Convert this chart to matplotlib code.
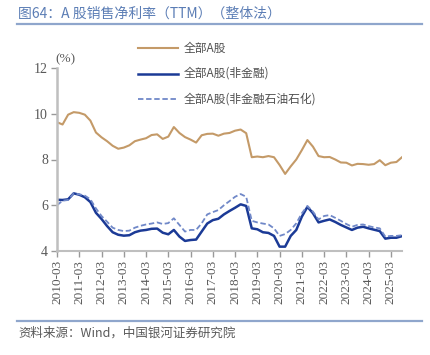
import matplotlib
matplotlib.use("Agg")
import matplotlib.pyplot as plt
from matplotlib.lines import Line2D

quarters = [f"{y}-{m:02d}" for y in range(2010, 2026) for m in (3, 6, 9, 12)][:63]

all_a = [9.63, 9.53, 9.96, 10.07, 10.04, 9.96, 9.70, 9.18, 8.97, 8.80, 8.60, 8.47, 8.52, 8.62, 8.80, 8.87,
         8.93, 9.07, 9.10, 8.90, 9.00, 9.42, 9.16, 8.98, 8.87, 8.74, 9.06, 9.12, 9.13, 9.04, 9.13, 9.16,
         9.26, 9.31, 9.15, 8.10, 8.13, 8.10, 8.15, 8.10, 7.76, 7.37, 7.70, 8.00, 8.41, 8.85, 8.56, 8.15,
         8.10, 8.11, 8.00, 7.87, 7.86, 7.74, 7.81, 7.80, 7.77, 7.80, 7.97, 7.75, 7.86, 7.89, 8.10]

non_fin = [6.24, 6.23, 6.26, 6.52, 6.46, 6.35, 6.14, 5.67, 5.40, 5.09, 4.82, 4.71, 4.67, 4.69, 4.82, 4.89,
           4.92, 4.97, 4.98, 4.80, 4.73, 4.92, 4.63, 4.44, 4.48, 4.50, 4.85, 5.20, 5.35, 5.41, 5.60, 5.75,
           5.89, 6.04, 5.97, 4.99, 4.95, 4.82, 4.79, 4.66, 4.19, 4.19, 4.66, 4.92, 5.50, 5.93, 5.65, 5.25,
           5.32, 5.38, 5.27, 5.14, 5.03, 4.92, 5.02, 5.06, 4.99, 4.93, 4.87, 4.54, 4.58, 4.58, 4.65]

non_fin_pet = [6.00, 6.20, 6.23, 6.52, 6.48, 6.42, 6.26, 5.86, 5.53, 5.28, 5.02, 4.92, 4.87, 4.89, 5.02, 5.10,
               5.16, 5.20, 5.25, 5.18, 5.22, 5.43, 5.14, 4.85, 4.92, 4.92, 5.21, 5.60, 5.70, 5.79, 6.00, 6.18,
               6.37, 6.49, 6.37, 5.32, 5.25, 5.20, 5.16, 4.99, 4.66, 4.74, 4.92, 5.21, 5.65, 5.97, 5.72, 5.38,
               5.53, 5.57, 5.45, 5.32, 5.18, 5.06, 5.14, 5.16, 5.09, 5.03, 4.99, 4.63, 4.66, 4.66, 4.69]

series_names = ["全部A股", "全部A股(非金融)", "全部A股(非金融石油石化)"]
title = "图64：A 股销售净利率（TTM）（整体法）"
source = "资料来源：Wind，中国银河证券研究院"
yticks = [4, 6, 8, 10, 12]

CJK = ["Noto Sans CJK SC", "DejaVu Sans"]
SERIF = "Liberation Serif"

fig = plt.figure(figsize=(4.31, 3.55), dpi=100)
ax = fig.add_axes([57/431, 1-251/355, (402-57)/431, (251-68)/355])

x = list(range(len(quarters)))
c_gold, c_blue, c_dash = "#C49A68", "#1B3A96", "#7088C8"
ax.plot(x, all_a, color=c_gold, lw=1.5)
ax.plot(x, non_fin, color=c_blue, lw=1.8)
ax.plot(x, non_fin_pet, color=c_dash, lw=1.3, ls=(0, (3, 1.5)))

ax.set_xlim(0, len(quarters) - 1)
ax.set_ylim(4, 12)
ax.set_yticks(yticks)
ax.set_yticklabels([str(v) for v in yticks], fontfamily=SERIF, fontsize=10, color="#595959")
xt = [i for i, q in enumerate(quarters) if q.endswith("-03")]
ax.set_xticks(xt)
ax.set_xticklabels([quarters[i] for i in xt], rotation=90, fontfamily=SERIF, fontsize=9.5, color="#595959")
for s in ("top", "right"):
    ax.spines[s].set_visible(False)
ax.spines["left"].set_color("#BFBFBF")
ax.spines["left"].set_linewidth(1.8)
ax.spines["bottom"].set_color("#BFBFBF")
ax.spines["bottom"].set_linewidth(1.5)
ax.tick_params(axis="both", colors="#999999", length=4, width=1, pad=2.5, labelcolor="#595959")

fig.text(55/431, 1-59/355, "(%)", fontfamily=SERIF, fontsize=9.5, color="#595959", va="center")

# legend (manual)
for i, (name, col, ls, lw) in enumerate(zip(series_names, [c_gold, c_blue, c_dash],
                                             ["-", "-", (0, (3, 1.5))], [1.5, 1.8, 1.3])):
    yy = 1 - (48 + i * 25.5) / 355
    fig.add_artist(Line2D([138/431, 178/431], [yy, yy], color=col, lw=lw, ls=ls))
    fig.text(184/431, yy, name, fontfamily=CJK, fontsize=8.5, color="#505050", va="center")

fig.text(18/431, 1-14/355, title, fontfamily=CJK, fontsize=10, color="#5B7DB5", va="center")
fig.add_artist(Line2D([17/431, 422/431], [1-24/355, 1-24/355], color="#8FA6CC", lw=1.6))
fig.add_artist(Line2D([17/431, 422/431], [1-321/355, 1-321/355], color="#8FA6CC", lw=1.6))
fig.text(18/431, 1-333/355, source, fontfamily=CJK, fontsize=9, color="#595959", va="center", style="italic")

fig.savefig("out.png", dpi=100)
